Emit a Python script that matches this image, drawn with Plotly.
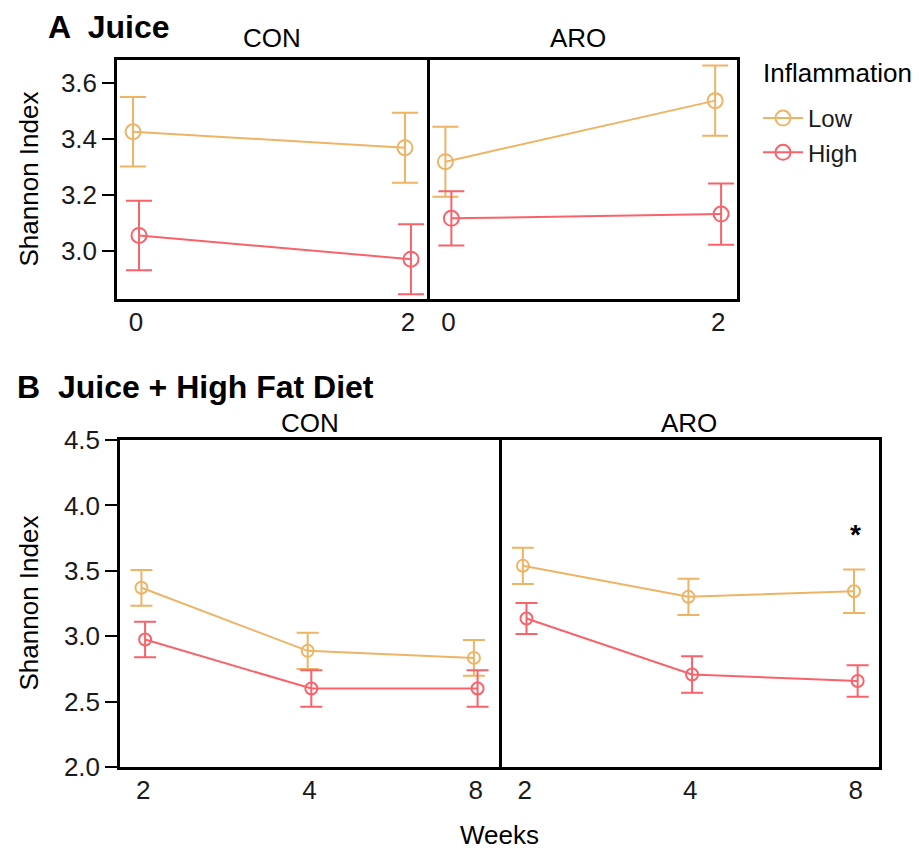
import plotly.graph_objects as go

# ---------------- data ----------------
weeks_A = [0, 2]
A_CON_low = [3.427, 3.370]
A_CON_low_err = [0.124, 0.125]
A_CON_high = [3.057, 2.972]
A_CON_high_err = [0.124, 0.125]
A_ARO_low = [3.320, 3.538]
A_ARO_low_err = [0.125, 0.125]
A_ARO_high = [3.118, 3.133]
A_ARO_high_err = [0.097, 0.109]

weeks_B = ["2", "4", "8"]
B_CON_low = [3.370, 2.888, 2.834]
B_CON_low_err = [0.137, 0.139, 0.137]
B_CON_high = [2.975, 2.600, 2.600]
B_CON_high_err = [0.136, 0.140, 0.140]
B_ARO_low = [3.538, 3.301, 3.344]
B_ARO_low_err = [0.138, 0.139, 0.166]
B_ARO_high = [3.135, 2.707, 2.658]
B_ARO_high_err = [0.118, 0.140, 0.120]

groups = ["Low", "High"]
yticks_A = [3.0, 3.2, 3.4, 3.6]
yticks_B = [2.0, 2.5, 3.0, 3.5, 4.0, 4.5]

# ---------------- style ----------------
COL = {"Low": "#EEB466", "High": "#F8636B"}
FONT = "Liberation Sans, Arial, Helvetica, sans-serif"
W, H = 919, 850
FS = 26
LW = 2.5

def px_x(p):
    return p / W

def px_y(p):
    return 1 - p / H

fig = go.Figure()

def add_series(x, y, err, grp, xa, ya, msize, capw, showlegend):
    fig.add_trace(go.Scatter(
        x=x, y=y, mode="lines+markers", name=grp,
        legendgroup=grp, showlegend=showlegend,
        line=dict(color=COL[grp], width=2),
        marker=dict(symbol="circle-open", size=msize, color=COL[grp],
                    line=dict(width=2, color=COL[grp])),
        error_y=dict(type="data", array=err, visible=True,
                     color=COL[grp], thickness=2, width=capw),
        xaxis=xa, yaxis=ya, cliponaxis=False,
    ))

dA = 0.022
dB = 0.011
# Panel A
add_series([w - dA for w in weeks_A], A_CON_low, A_CON_low_err, "Low", "x", "y", 15, 13, True)
add_series([w + dA for w in weeks_A], A_CON_high, A_CON_high_err, "High", "x", "y", 15, 13, True)
add_series([w - dA for w in weeks_A], A_ARO_low, A_ARO_low_err, "Low", "x2", "y2", 15, 13, False)
add_series([w + dA for w in weeks_A], A_ARO_high, A_ARO_high_err, "High", "x2", "y2", 15, 13, False)
# Panel B
idxB = list(range(len(weeks_B)))
add_series([i - dB for i in idxB], B_CON_low, B_CON_low_err, "Low", "x3", "y3", 12, 11, False)
add_series([i + dB for i in idxB], B_CON_high, B_CON_high_err, "High", "x3", "y3", 12, 11, False)
add_series([i - dB for i in idxB], B_ARO_low, B_ARO_low_err, "Low", "x4", "y4", 12, 11, False)
add_series([i + dB for i in idxB], B_ARO_high, B_ARO_high_err, "High", "x4", "y4", 12, 11, False)

frame = dict(showline=True, linecolor="black", linewidth=LW, mirror=True,
             showgrid=False, zeroline=False, automargin=False)
tickfont = dict(family=FONT, size=FS, color="#1a1a1a")

xA = dict(frame, range=[-0.14, 2.14], tickvals=weeks_A, ticks="",
          tickfont=tickfont, ticklabelstandoff=-2)
xB = dict(frame, range=[-0.14, 2.14], tickvals=idxB, ticktext=weeks_B, ticks="",
          tickfont=tickfont, ticklabelstandoff=-2)
yA = dict(frame, range=[2.83, 3.683], tickvals=yticks_A, ticks="outside",
          ticklen=12, tickwidth=2, tickcolor="black", tickfont=tickfont,
          tickformat=".1f")
yB = dict(frame, range=[2.0, 4.5], tickvals=yticks_B, ticks="outside",
          ticklen=12, tickwidth=2, tickcolor="black", tickfont=tickfont,
          tickformat=".1f")

A_top, A_bot = px_y(60), px_y(299)
B_top, B_bot = px_y(440), px_y(767)

fig.update_layout(
    width=W, height=H, autosize=False,
    margin=dict(l=0, r=0, t=0, b=0, pad=0, autoexpand=False),
    paper_bgcolor="white", plot_bgcolor="white",
    font=dict(family=FONT, size=FS, color="#1a1a1a"),
    xaxis=dict(xA, domain=[px_x(117), px_x(427)], anchor="y"),
    xaxis2=dict(xA, domain=[px_x(427 + LW), px_x(737)], anchor="y2"),
    yaxis=dict(yA, domain=[A_bot, A_top], anchor="x"),
    yaxis2=dict(yA, domain=[A_bot, A_top], anchor="x2", ticks="",
                showticklabels=False, matches="y"),
    xaxis3=dict(xB, domain=[px_x(120), px_x(499)], anchor="y3"),
    xaxis4=dict(xB, domain=[px_x(499 + LW), px_x(879)], anchor="y4"),
    yaxis3=dict(yB, domain=[B_bot, B_top], anchor="x3"),
    yaxis4=dict(yB, domain=[B_bot, B_top], anchor="x4", ticks="",
                showticklabels=False, matches="y3"),
    legend=dict(
        x=px_x(758), y=px_y(96), xanchor="left", yanchor="top",
        font=dict(family=FONT, size=24), tracegroupgap=0,
        bgcolor="rgba(0,0,0,0)", itemwidth=40,
    ),
)

ann = []
def label(text, x, y, size=FS, bold=False, angle=0, xanchor="center", xref="paper", yref="paper"):
    ann.append(dict(text=f"<b>{text}</b>" if bold else text, x=x, y=y,
                    xref=xref, yref=yref, showarrow=False, textangle=angle,
                    xanchor=xanchor, yanchor="middle",
                    font=dict(family=FONT, size=size, color="black")))

label("A  Juice", px_x(46), px_y(27), size=32, bold=True, xanchor="left")
label("B  Juice + High Fat Diet", px_x(15), px_y(387), size=32, bold=True, xanchor="left")
label("CON", px_x(272), px_y(38))
label("ARO", px_x(578), px_y(38))
label("CON", px_x(310), px_y(423))
label("ARO", px_x(689), px_y(423))
label("Inflammation", px_x(761), px_y(73), xanchor="left")
label("Shannon Index", px_x(28), (A_top + A_bot) / 2, angle=-90)
label("Shannon Index", px_x(28), (B_top + B_bot) / 2, angle=-90)
label("Weeks", px_x(499), px_y(835))
label("*", 2, 3.78, size=28, bold=True, xref="x4", yref="y4")
fig.update_layout(annotations=ann)

fig.write_html("out.html")
